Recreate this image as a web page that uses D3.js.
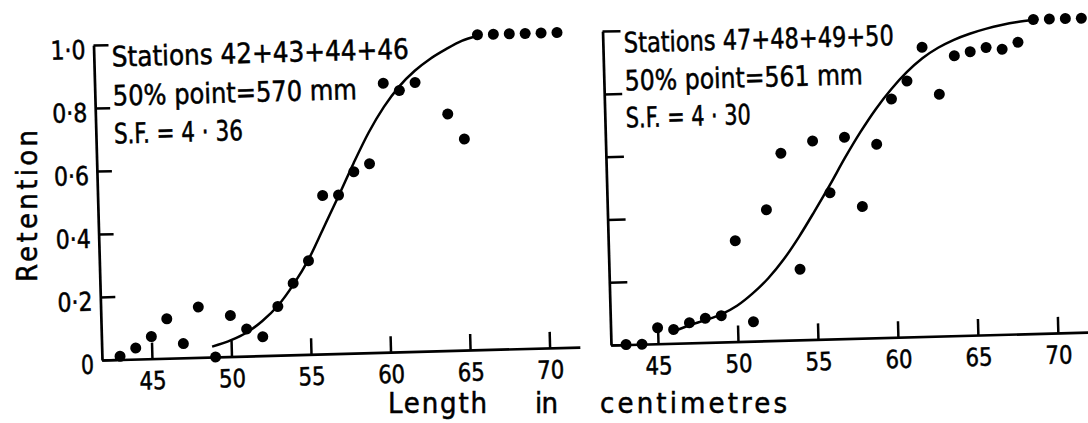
<!DOCTYPE html>
<html>
<head>
<meta charset="utf-8">
<script src="https://cdn.jsdelivr.net/npm/d3@7"></script>
<style>
  html, body { margin: 0; padding: 0; background: #fff; }
  svg { display: block; }
  text { font-family: "DejaVu Sans Condensed", "DejaVu Sans", sans-serif; font-stretch: condensed; fill: #000; stroke: #000; stroke-width: 0.5px; }
</style>
</head>
<body>
<script>
// ---------- data ----------
const xTicks = [45, 50, 55, 60, 65, 70];
const yTicks = [0, 0.2, 0.4, 0.6, 0.8, 1.0];

// Left panel: Stations 42+43+44+46
const leftX = [43, 44, 45, 46, 47, 48, 49, 50, 51, 52, 53, 54, 55, 56, 57, 58, 59, 60, 61, 62, 64, 65, 66, 67, 68, 69, 70, 71];
const leftY = [0.01, 0.035, 0.07, 0.125, 0.045, 0.16, 0.0, 0.13, 0.086, 0.06, 0.155, 0.227, 0.297, 0.503, 0.503, 0.576, 0.60, 0.854, 0.83, 0.854, 0.751, 0.67, 1.0, 1.0, 1.0, 1.0, 1.0, 1.0];
const leftCurveX = [48.8, 50, 51, 52, 53, 54, 55, 56, 57, 58, 59, 60, 61, 62, 63, 64, 65, 66];
const leftCurveY = [0.033, 0.052, 0.075, 0.11, 0.157, 0.222, 0.301, 0.40, 0.50, 0.603, 0.699, 0.779, 0.843, 0.891, 0.928, 0.957, 0.982, 0.997];
const leftNotes = ["Stations  42+43+44+46", "50% point=570 mm", "S.F. = 4 · 36"];

// Right panel: Stations 47+48+49+50
const rightX = [43, 44, 45, 46, 47, 48, 49, 50, 51, 52, 53, 54, 55, 56, 57, 58, 59, 60, 61, 62, 63, 64, 65, 66, 67, 68, 69, 70, 71, 72];
const rightY = [0.0, 0.0, 0.051, 0.044, 0.064, 0.077, 0.084, 0.321, 0.062, 0.417, 0.596, 0.225, 0.632, 0.466, 0.641, 0.419, 0.616, 0.759, 0.815, 0.921, 0.77, 0.891, 0.903, 0.915, 0.908, 0.929, 1.0, 1.0, 1.0, 1.0];
const rightCurveX = [46.1, 47, 48, 49, 50, 51, 52, 53, 54, 55, 56, 57, 58, 59, 60, 61, 62, 63, 64, 65, 66, 67, 68, 69];
const rightCurveY = [0.04, 0.056, 0.071, 0.088, 0.114, 0.152, 0.199, 0.258, 0.329, 0.408, 0.49, 0.576, 0.656, 0.728, 0.79, 0.843, 0.886, 0.918, 0.942, 0.96, 0.974, 0.985, 0.993, 0.998];
const rightNotes = ["Stations  47+48+49+50", "50% point=561 mm", "S.F. = 4 · 30"];

const yLabel = "Retention";
const xLabelParts = ["Length", "in", "centimetres"];

// ---------- layout ----------
const W = 1088, H = 423;
const TILT = -1.55; // the scanned figure is slightly rotated
const svg = d3.select("body").append("svg").attr("width", W).attr("height", H);
svg.append("rect").attr("width", W).attr("height", H).attr("fill", "#fff");

const yFmt = d => d === 0 ? "0" : d3.format(".1f")(d).replace(".", "\u00B7");

function drawPanel(cfg) {
  const g = svg.append("g")
    .attr("transform", `translate(${cfg.origin[0]},${cfg.origin[1]}) rotate(${TILT})`);

  const x = d3.scaleLinear().domain(cfg.xDomain).range([0, cfg.xLen]);
  const y = d3.scaleLinear().domain([0, 1]).range([0, -cfg.yLen]);

  // x axis
  const gx = g.append("g")
    .call(d3.axisBottom(x).tickValues(xTicks).tickSizeInner(-16).tickSizeOuter(0).tickPadding(13));
  // y axis
  const gy = g.append("g")
    .call(d3.axisLeft(y).tickValues(yTicks).tickSizeInner(-cfg.yTick).tickSizeOuter(0).tickPadding(8)
      .tickFormat(d => cfg.yLabels ? yFmt(d) : ""));

  [gx, gy].forEach(a => {
    a.selectAll("path.domain").attr("stroke", "#000").attr("stroke-width", 2.7);
    a.selectAll(".tick line").attr("stroke", "#000").attr("stroke-width", 2.5);
    a.selectAll(".tick text").attr("fill", "#000").style("font-size", "25px")
      .attr("lengthAdjust", "spacingAndGlyphs");
  });
  gx.selectAll(".tick text").attr("textLength", 27);
  gy.selectAll(".tick text").attr("dy", "0.5em").style("font-size", "26px")
    .attr("textLength", d => d === 0 ? 13 : 35);

  // curve
  const line = d3.line().x(d => x(d[0])).y(d => y(d[1])).curve(d3.curveMonotoneX);
  g.append("path")
    .datum(cfg.curveX.map((v, i) => [v, cfg.curveY[i]]))
    .attr("d", line)
    .attr("fill", "none").attr("stroke", "#000").attr("stroke-width", 2.5);

  // points
  g.selectAll("circle.pt")
    .data(cfg.px.map((v, i) => [v, cfg.py[i]]))
    .join("circle").attr("class", "pt")
    .attr("cx", d => x(d[0])).attr("cy", d => y(d[1]))
    .attr("r", 5.5).attr("fill", "#000");

  // annotation
  cfg.notes.forEach((t, i) => {
    g.append("text")
      .attr("x", cfg.noteX).attr("y", cfg.noteY[i])
      .attr("textLength", cfg.noteW[i]).attr("lengthAdjust", "spacingAndGlyphs")
      .style("font-size", "28px")
      .text(t);
  });
}

drawPanel({
  origin: [102, 360], xDomain: [41.86, 71.9], xLen: 478, yLen: 315, yTick: 15, yLabels: true,
  px: leftX, py: leftY, curveX: leftCurveX, curveY: leftCurveY,
  notes: leftNotes, noteX: 18, noteY: [-293, -254, -216], noteW: [297, 244, 129]
});

drawPanel({
  origin: [611, 345], xDomain: [42.06, 72], xLen: 479, yLen: 314, yTick: 18, yLabels: false,
  px: rightX, py: rightY, curveX: rightCurveX, curveY: rightCurveY,
  notes: rightNotes, noteX: 21, noteY: [-292, -254, -217], noteW: [270, 238, 125]
});

// axis titles
svg.append("text")
  .attr("transform", "translate(37,206) rotate(-90)")
  .attr("text-anchor", "middle")
  .attr("textLength", 152).attr("lengthAdjust", "spacing")
  .style("font-size", "29px")
  .text(yLabel);

const xt = [[388, 99], [535, 23], [600, 187]];
xLabelParts.forEach((t, i) => {
  svg.append("text")
    .attr("x", xt[i][0]).attr("y", 413)
    .attr("textLength", xt[i][1]).attr("lengthAdjust", "spacing")
    .style("font-size", "29px")
    .text(t);
});
</script>
</body>
</html>
